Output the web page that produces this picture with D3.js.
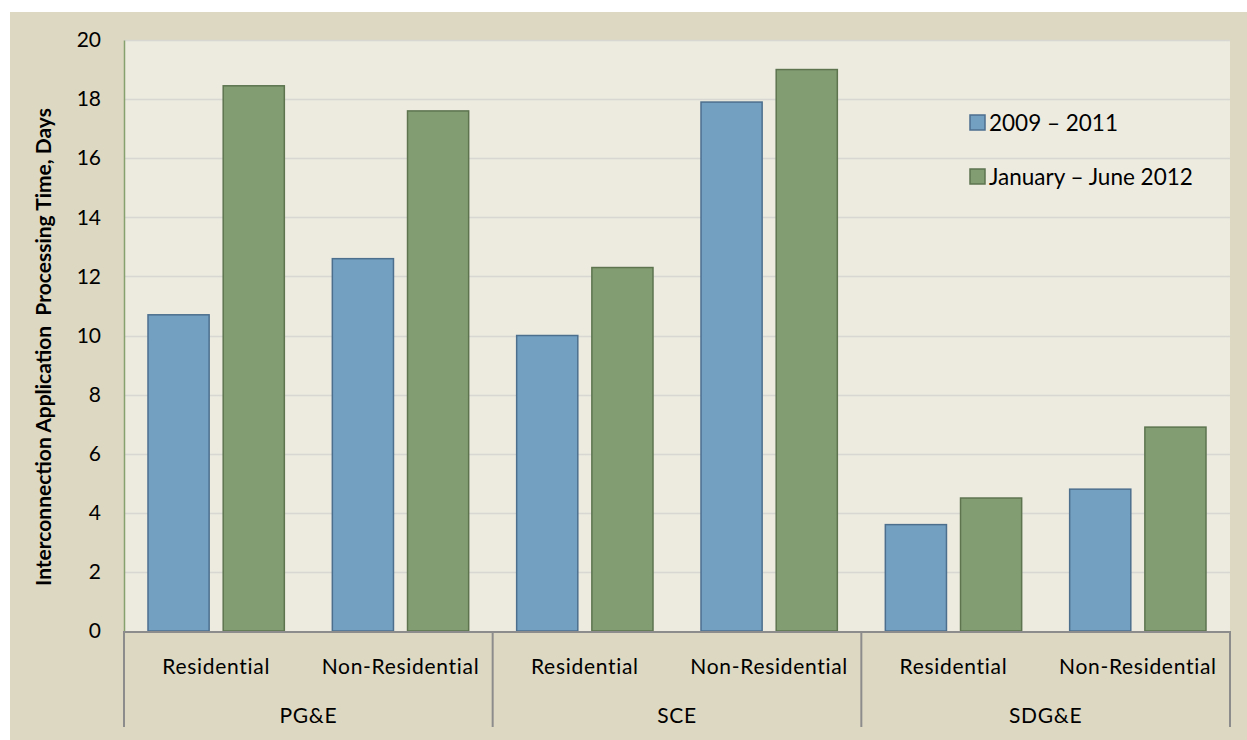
<!DOCTYPE html>
<html><head><meta charset="utf-8">
<script src="https://cdn.jsdelivr.net/npm/d3@7"></script>
<style>body{margin:0;background:#fff}svg{display:block}</style>
</head><body>
<svg id="c" width="1247" height="740"></svg>
<script>
const groups = ["PG&E", "SCE", "SDG&E"];
const categories = ["Residential", "Non-Residential"];
const seriesNames = ["2009 – 2011", "January – June 2012"];
const values2009_2011 = [10.7, 12.6, 10.0, 17.9, 3.6, 4.8];
const valuesJanJun2012 = [18.45, 17.6, 12.3, 19.0, 4.5, 6.9];
const yTicks = [0, 2, 4, 6, 8, 10, 12, 14, 16, 18, 20];
const yTitle = "Interconnection Application  Processing Time, Days";

const colors = ["#739fc1", "#839d72"];
const strokes = ["#4c6f8e", "#5d744f"];
const font = "Lato, 'Open Sans', sans-serif";

const svg = d3.select("#c");
svg.append("rect").attr("x", 10).attr("y", 12).attr("width", 1237).attr("height", 728).attr("fill", "#ddd8c2");

const L = 124, R = 1230, T = 40, B = 631;
svg.append("rect").attr("x", L).attr("y", T).attr("width", R - L).attr("height", B - T).attr("fill", "#edebe0");

const y = d3.scaleLinear().domain([0, 20]).range([B, T]);
const rows = [];
groups.forEach((g, gi) => categories.forEach((c, ci) => rows.push({ key: g + "|" + c, g, c, i: gi * 2 + ci })));
const x0 = d3.scaleBand().domain(rows.map(r => r.key)).range([L, R]).padding(0);
const bw = x0.bandwidth();
const x1 = d3.scaleBand().domain([0, 1]).range([24, bw - 24]).paddingInner(0.187);

// gridlines
svg.append("g").selectAll("line").data(yTicks.filter(t => t > 0)).join("line")
  .attr("x1", L).attr("x2", R).attr("y1", d => Math.round(y(d)) + 0.5).attr("y2", d => Math.round(y(d)) + 0.5)
  .attr("stroke", "#d8d7d2").attr("stroke-width", 1.5);

// bars
const series = [values2009_2011, valuesJanJun2012];
series.forEach((vals, si) => {
  svg.append("g").selectAll("rect").data(rows).join("rect")
    .attr("x", d => x0(d.key) + x1(si))
    .attr("width", x1.bandwidth())
    .attr("y", d => y(vals[d.i]))
    .attr("height", d => y(0) - y(vals[d.i]))
    .attr("fill", colors[si]).attr("stroke", strokes[si]).attr("stroke-width", 1.5);
});

// y axis
const yAxis = d3.axisLeft(y).tickValues(yTicks).tickSize(0).tickPadding(23);
const yg = svg.append("g").attr("transform", `translate(${L},0)`).call(yAxis);
yg.select(".domain").attr("stroke", "#86a06e").attr("stroke-width", 1.5);
yg.selectAll("text").attr("font-family", font).attr("font-size", 21).attr("fill", "#000");

// x axis structure
const axg = svg.append("g");
axg.append("line").attr("x1", L - 1).attr("x2", R).attr("y1", B + 1).attr("y2", B + 1).attr("stroke", "#8c8c8c").attr("stroke-width", 2);
const sepX = [L, ...groups.map((g, gi) => x0(g + "|" + categories[1]) + bw)];
axg.selectAll("line.sep").data(sepX).join("line").attr("class", "sep")
  .attr("x1", d => d).attr("x2", d => d).attr("y1", B).attr("y2", 727)
  .attr("stroke", "#8c8c8c").attr("stroke-width", 2);

svg.append("g").selectAll("text").data(rows).join("text")
  .attr("x", d => x0(d.key) + bw / 2).attr("y", 674)
  .attr("text-anchor", "middle").attr("font-family", font).attr("font-size", 21)
  .attr("letter-spacing", 0.7).attr("fill", "#000")
  .text(d => d.c);
svg.append("g").selectAll("text").data(groups).join("text")
  .attr("x", g => x0(g + "|" + categories[0]) + bw).attr("y", 723)
  .attr("text-anchor", "middle").attr("font-family", font).attr("font-size", 21)
  .attr("letter-spacing", 0.7).attr("fill", "#000")
  .text(g => g);

// y title
svg.append("text").attr("transform", "translate(51,347) rotate(-90)")
  .attr("text-anchor", "middle").attr("font-family", font).attr("font-weight", "bold")
  .attr("font-size", 21).attr("fill", "#000").style("white-space", "pre").text(yTitle);

// legend
const lg = svg.append("g");
seriesNames.forEach((s, i) => {
  const yy = 115 + i * 54;
  lg.append("rect").attr("x", 970).attr("y", yy).attr("width", 15).attr("height", 15)
    .attr("fill", colors[i]).attr("stroke", strokes[i]).attr("stroke-width", 1.5);
  lg.append("text").attr("x", 989).attr("y", yy + 16).attr("font-family", font).attr("font-size", 22.5)
    .attr("fill", "#000").text(s);
});
</script>
</body></html>
